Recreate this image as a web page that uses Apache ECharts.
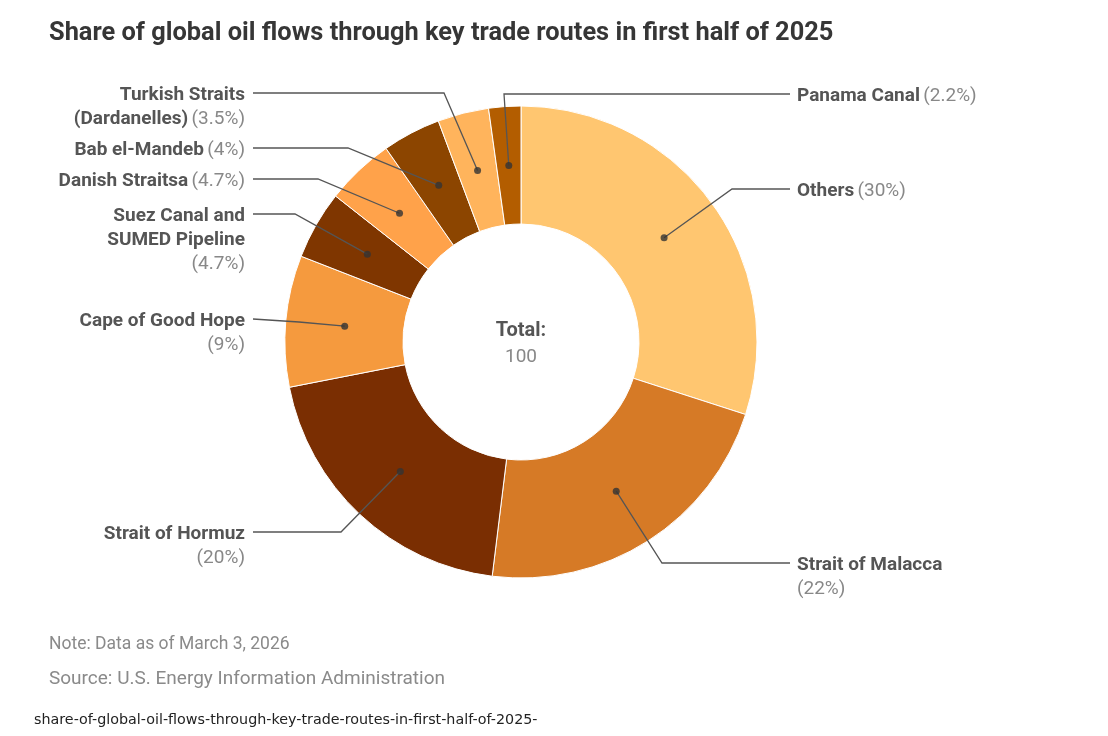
<!DOCTYPE html>
<html>
<head>
<meta charset="utf-8">
<script src="https://cdn.jsdelivr.net/npm/echarts@6/dist/echarts.min.js"></script>
<style>
  html, body { margin: 0; padding: 0; background: #fff; }
  #chart { width: 1108px; height: 736px; }
</style>
</head>
<body>
<div id="chart"></div>
<script>
// data: share of global oil flows, first half of 2025 (%)
const routes = [
  'Others',
  'Strait of Malacca',
  'Strait of Hormuz',
  'Cape of Good Hope',
  'Suez Canal and\nSUMED Pipeline',
  'Danish Straitsa',
  'Bab el-Mandeb',
  'Turkish Straits\n(Dardanelles)',
  'Panama Canal'
];
const shares = [30, 22, 20, 9, 4.7, 4.7, 4, 3.5, 2.2];
const totalLabel = '100';

const sliceColors = ['#ffc670', '#d67a26', '#7a2e02', '#f59a3e', '#7f3600',
                     '#ffa24a', '#8c4500', '#ffb45c', '#b35d00'];

// where each label sits: side, centre y of first line, bend of leader line
const labelSpots = [
  { side: 'R', y: 189, bend: [732, 189], pctBreak: false },
  { side: 'R', y: 563, bend: [662, 563], pctBreak: true },
  { side: 'L', y: 532, bend: [341, 532], pctBreak: true },
  { side: 'L', y: 319, bend: [299, 322], pctBreak: true },
  { side: 'L', y: 214, bend: [295, 214], pctBreak: true },
  { side: 'L', y: 179, bend: [318, 179], pctBreak: false },
  { side: 'L', y: 148, bend: [348, 148], pctBreak: false },
  { side: 'L', y: 93,  bend: [444, 93],  pctBreak: false },
  { side: 'R', y: 94,  bend: [504, 94],  pctBreak: false }
];

const FONT = 'Roboto, "Open Sans", sans-serif';
const CENTER = [521, 342];
const R_IN = 118, R_OUT = 236;
const LINE_H = 24;
const LEFT_X = 245, RIGHT_X = 797;

const sum = shares.reduce((a, b) => a + b, 0);
// middle of each slice, in data units, for the dots
const mids = [];
let acc = 0;
shares.forEach(v => { mids.push([0.75, acc + v / 2]); acc += v; });

const pieData = routes.map((name, i) => ({
  name: name, value: shares[i], itemStyle: { color: sliceColors[i] }
}));

const myChart = echarts.init(document.getElementById('chart'));

const option = {
  backgroundColor: '#fff',
  animation: false,
  polar: { center: CENTER, radius: R_OUT },
  angleAxis: {
    type: 'value', min: 0, max: sum, startAngle: 90, clockwise: true,
    show: false, axisLine: { show: false }, splitLine: { show: false },
    axisTick: { show: false }, axisLabel: { show: false }
  },
  radiusAxis: {
    type: 'value', min: 0, max: 1,
    show: false, axisLine: { show: false }, splitLine: { show: false },
    axisTick: { show: false }, axisLabel: { show: false }
  },
  graphic: [
    { type: 'text', x: 49, y: 34, style: {
      text: 'Share of global oil flows through key trade routes in first half of 2025',
      font: 'bold 25.4px ' + FONT, fill: '#363636', textVerticalAlign: 'middle' } },
    { type: 'text', x: CENTER[0], y: 331, style: {
      text: 'Total:', font: 'bold 20px ' + FONT, fill: '#555',
      textAlign: 'center', textVerticalAlign: 'middle' } },
    { type: 'text', x: CENTER[0], y: 357, style: {
      text: totalLabel, font: '19px ' + FONT, fill: '#888',
      textAlign: 'center', textVerticalAlign: 'middle' } },
    { type: 'text', x: 49, y: 645, style: {
      text: 'Note: Data as of March 3, 2026', font: '17.5px ' + FONT, fill: '#8a8a8a',
      textVerticalAlign: 'middle' } },
    { type: 'text', x: 49, y: 679, style: {
      text: 'Source: U.S. Energy Information Administration', font: '19px ' + FONT, fill: '#8a8a8a',
      textVerticalAlign: 'middle' } },
    { type: 'text', x: 34, y: 720, style: {
      text: 'share-of-global-oil-flows-through-key-trade-routes-in-first-half-of-2025-',
      font: '14.3px "DejaVu Sans", sans-serif', fill: '#222',
      textVerticalAlign: 'middle' } }
  ],
  series: [
    {
      // the slices
      type: 'pie',
      center: CENTER,
      radius: [R_IN, R_OUT],
      startAngle: 90,
      clockwise: true,
      silent: true,
      z: 1,
      data: pieData,
      itemStyle: { borderColor: '#fff', borderWidth: 1 },
      label: { show: false },
      labelLine: { show: false }
    },
    {
      // same pie, see-through, carrying labels and leader lines on top
      type: 'pie',
      center: CENTER,
      radius: [R_IN, R_OUT],
      startAngle: 90,
      clockwise: true,
      avoidLabelOverlap: false,
      silent: true,
      z: 3,
      data: pieData.map(d => ({ name: d.name, value: d.value })),
      itemStyle: { color: 'rgba(0,0,0,0)', borderWidth: 0 },
      label: {
        show: true,
        position: 'outside',
        formatter: function (p) {
          const sep = labelSpots[p.dataIndex].pctBreak ? '\n' : ' ';
          return '{n|' + p.name + '}' + sep + '{p|(' + p.value + '%)}';
        },
        rich: {
          n: { fontFamily: FONT, fontWeight: 'bold', fontSize: 19, color: '#555', lineHeight: LINE_H },
          p: { fontFamily: FONT, fontSize: 19, color: '#888', lineHeight: LINE_H }
        }
      },
      labelLine: {
        show: true, length: 10, length2: 10,
        lineStyle: { color: '#555', width: 1.3 }
      },
      labelLayout: function (params) {
        const spot = labelSpots[params.dataIndex];
        const p0 = params.labelLinePoints[0];
        const dx = p0[0] - CENTER[0], dy = p0[1] - CENTER[1];
        const len = Math.sqrt(dx * dx + dy * dy);
        const rm = (R_IN + R_OUT) / 2;
        const dot = [CENTER[0] + dx / len * rm, CENTER[1] + dy / len * rm];
        const isLeft = spot.side === 'L';
        const end = [isLeft ? LEFT_X + 8 : RIGHT_X - 7, spot.y];
        return {
          x: isLeft ? LEFT_X : RIGHT_X,
          y: spot.y - LINE_H / 2 + 2,
          align: isLeft ? 'right' : 'left',
          verticalAlign: 'top',
          labelLinePoints: [dot, spot.bend, end]
        };
      }
    },
    {
      type: 'scatter',
      coordinateSystem: 'polar',
      symbolSize: 7,
      silent: true,
      z: 5,
      itemStyle: { color: '#333' },
      data: mids
    }
  ]
};

myChart.setOption(option);
</script>
</body>
</html>
